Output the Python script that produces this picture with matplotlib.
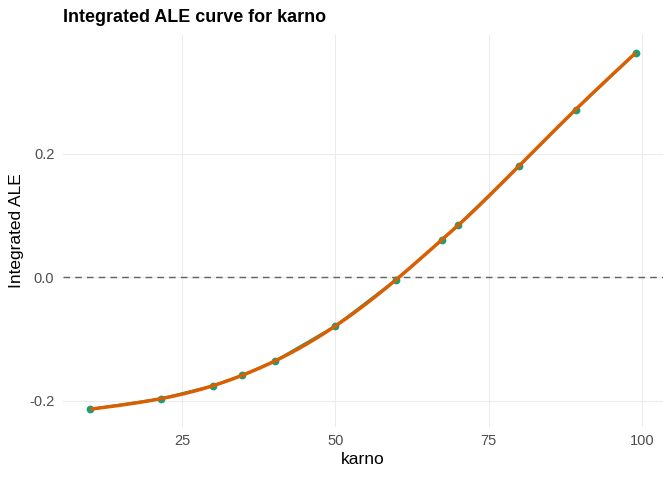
import numpy as np
import matplotlib
matplotlib.use("Agg")
import matplotlib.pyplot as plt

plt.rcParams['font.family'] = ['Liberation Sans', 'DejaVu Sans']

# Data
karno = [10.0, 21.5, 30.0, 34.8, 40.1, 50.0, 59.9, 67.4, 70.0, 80.0, 89.2, 99.0]
ale = [-0.214, -0.197, -0.176, -0.159, -0.136, -0.079, -0.004, 0.061, 0.084, 0.181, 0.272, 0.364]
x_ticks = [25, 50, 75, 100]
y_ticks = [-0.2, 0.0, 0.2]
y_tick_labels = ["-0.2", "0.0", "0.2"]

green = "#1B9E77"
orange = "#D95F02"


def natural_spline(x, y, xs):
    x = np.asarray(x, float)
    y = np.asarray(y, float)
    n = len(x)
    h = np.diff(x)
    A = np.zeros((n, n))
    b = np.zeros(n)
    A[0, 0] = 1
    A[-1, -1] = 1
    for i in range(1, n - 1):
        A[i, i - 1] = h[i - 1]
        A[i, i] = 2 * (h[i - 1] + h[i])
        A[i, i + 1] = h[i]
        b[i] = 3 * ((y[i + 1] - y[i]) / h[i] - (y[i] - y[i - 1]) / h[i - 1])
    c = np.linalg.solve(A, b)
    bb = (y[1:] - y[:-1]) / h - h * (2 * c[:-1] + c[1:]) / 3
    d = (c[1:] - c[:-1]) / (3 * h)
    idx = np.clip(np.searchsorted(x, xs) - 1, 0, n - 2)
    t = xs - x[idx]
    return y[idx] + bb[idx] * t + c[idx] * t ** 2 + d[idx] * t ** 3


W, H = 672, 480
fig = plt.figure(figsize=(W / 96, H / 96), dpi=96)
ax = fig.add_axes([63 / W, (H - 427) / H, 600 / W, 392 / H])

xa = np.array(karno)
ya = np.array(ale)
xr = xa.max() - xa.min()
yr = ya.max() - ya.min()
ax.set_xlim(xa.min() - 0.05 * xr, xa.max() + 0.05 * xr)
ax.set_ylim(ya.min() - 0.05 * yr, ya.max() + 0.05 * yr)

for s in ax.spines.values():
    s.set_visible(False)
ax.set_xticks(x_ticks)
ax.set_yticks(y_ticks)
ax.set_yticklabels(y_tick_labels)
ax.tick_params(length=0, labelsize=11, labelcolor="#4D4D4D")
ax.tick_params(axis='x', pad=5)
ax.tick_params(axis='y', pad=6.5)
ax.grid(True, color="#EBEBEB", linewidth=0.8)
ax.set_axisbelow(True)

ax.axhline(0, color="#666666", linewidth=1.1, linestyle=(0, (4.5, 3.5)), zorder=1)

ax.plot(karno, ale, color=green, linewidth=1.8, zorder=2)
ax.scatter(karno, ale, color=green, s=34, zorder=3, linewidths=0)

xs = np.linspace(xa.min(), xa.max(), 400)
ax.plot(xs, natural_spline(xa, ya, xs), color=orange, linewidth=2.6, zorder=4,
        solid_capstyle='butt')

ax.set_xlabel("karno", fontsize=13, labelpad=3)
ax.set_ylabel("Integrated ALE", fontsize=13, labelpad=4)
fig.text(63 / W, 1 - 17 / H, "Integrated ALE curve for karno", fontsize=13.4,
         fontweight='bold', ha='left', va='center')

fig.savefig("out.png", dpi=96)
